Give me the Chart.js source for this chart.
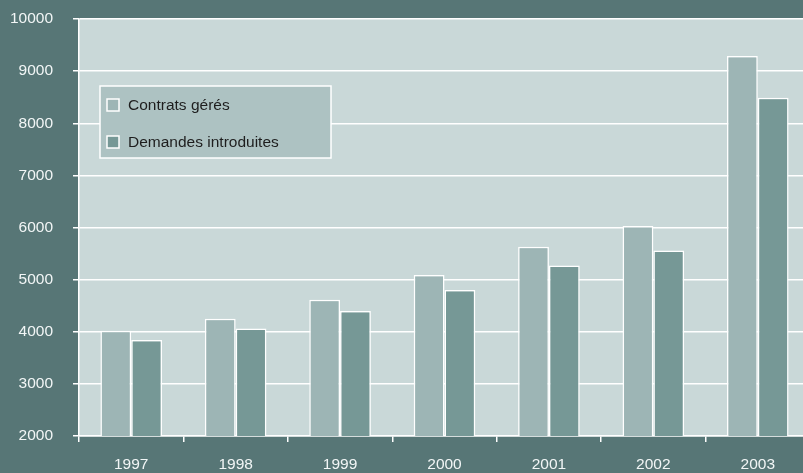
<!DOCTYPE html>
<html>
<head>
<meta charset="utf-8">
<script src="https://cdn.jsdelivr.net/npm/chart.js@4"></script>
<style>
  html, body { margin: 0; padding: 0; background: #577676; overflow: hidden; }
  #wrap { width: 810px; height: 473px; }
</style>
</head>
<body>
<div id="wrap"><canvas id="chart" width="810" height="473"></canvas></div>
<script>
// chart data
const years = ['1997', '1998', '1999', '2000', '2001', '2002', '2003'];
const contratsGeres = [4020, 4250, 4615, 5090, 5630, 6030, 9290];
const demandesIntroduites = [3840, 4060, 4400, 4800, 5270, 5560, 8490];
const yTicks = [2000, 3000, 4000, 5000, 6000, 7000, 8000, 9000, 10000];

const plotBg = '#c9d8d8';
const lightBar = '#9db5b5';
const darkBar = '#769896';
const fontFamily = '"Liberation Sans", Arial, sans-serif';

// plot background fill
const plotArea = {
    id: 'plotArea',
    beforeDraw(chart) {
        const { ctx, chartArea: a } = chart;
        ctx.save();
        ctx.fillStyle = plotBg;
        ctx.fillRect(a.left, a.top, a.right - a.left, a.bottom - a.top);
        ctx.restore();
    }
};

// legend box drawn inside the plot
const boxLegend = {
    id: 'boxLegend',
    afterDraw(chart) {
        const { ctx, chartArea: a } = chart;
        const x = a.left + 21, y = a.top + 67, w = 231, h = 72;
        ctx.save();
        ctx.fillStyle = '#adc2c2';
        ctx.fillRect(x, y, w, h);
        ctx.strokeStyle = '#ffffff';
        ctx.lineWidth = 1.5;
        ctx.strokeRect(x, y, w, h);
        ctx.font = '15.5px ' + fontFamily;
        ctx.textBaseline = 'middle';
        chart.data.datasets.forEach((ds, i) => {
            const cy = y + 19 + i * 37;
            ctx.fillStyle = ds.backgroundColor;
            ctx.fillRect(x + 7, cy - 6, 12, 12);
            ctx.strokeRect(x + 7, cy - 6, 12, 12);
            ctx.fillStyle = '#1e1e1e';
            ctx.fillText(ds.label, x + 28, cy + 1);
        });
        ctx.restore();
    }
};

const ctx = document.getElementById('chart').getContext('2d');
const chart = new Chart(ctx, {
    type: 'bar',
    data: {
        labels: years,
        datasets: [{
            label: 'Contrats gérés',
            data: contratsGeres,
            backgroundColor: lightBar,
            borderColor: '#ffffff',
            borderWidth: 1.5,
            borderSkipped: 'bottom'
        }, {
            label: 'Demandes introduites',
            data: demandesIntroduites,
            backgroundColor: darkBar,
            borderColor: '#ffffff',
            borderWidth: 1.5,
            borderSkipped: 'bottom'
        }]
    },
    options: {
        responsive: false,
        animation: false,
        layout: { padding: { top: 19, right: 0, left: 0, bottom: 0 } },
        datasets: { bar: { categoryPercentage: 0.59, barPercentage: 1.0 } },
        plugins: {
            legend: { display: false },
            tooltip: { enabled: false }
        },
        scales: {
            x: {
                afterFit(axis) {
                    axis.height = 37;
                    axis.paddingLeft = 0;
                    axis.paddingRight = 0;
                },
                grid: {
                    offset: true,
                    drawOnChartArea: false,
                    drawTicks: true,
                    tickLength: 6,
                    color: '#ffffff',
                    lineWidth: 1.5
                },
                border: { color: '#ffffff', width: 1.5 },
                ticks: {
                    color: '#f2f6f6',
                    font: { family: fontFamily, size: 15.5 },
                    padding: 13
                }
            },
            y: {
                min: 2000,
                max: 10000,
                afterBuildTicks(axis) {
                    axis.ticks = yTicks.map(v => ({ value: v }));
                },
                afterFit(axis) {
                    axis.width = 79;
                    axis.paddingTop = 0;
                    axis.paddingBottom = 0;
                },
                grid: {
                    color: '#ffffff',
                    lineWidth: 1.5,
                    tickLength: 6
                },
                border: { color: '#ffffff', width: 1.5 },
                ticks: {
                    color: '#f2f6f6',
                    font: { family: fontFamily, size: 15.5 },
                    padding: 20,
                    callback: v => String(v)
                }
            }
        }
    },
    plugins: [plotArea, boxLegend]
});
</script>
</body>
</html>
